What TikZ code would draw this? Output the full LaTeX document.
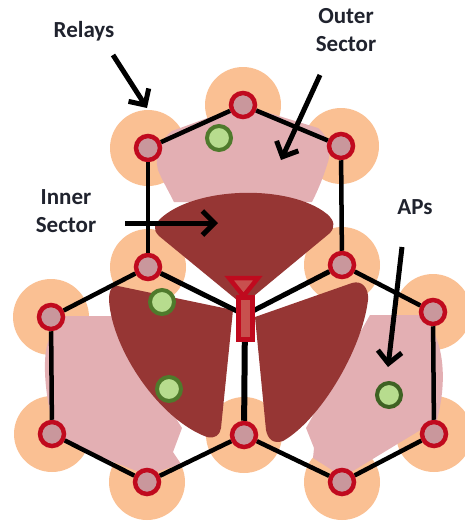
\documentclass[tikz,border=0pt]{standalone}
\usepackage{fontspec}
\setmainfont{Carlito}
\usetikzlibrary{arrows.meta}
\definecolor{coverorange}{HTML}{FAC093}
\definecolor{outerpink}{HTML}{E3AFB3}
\definecolor{innerbrown}{HTML}{963634}
\definecolor{relayred}{HTML}{C00A1E}
\definecolor{relayfill}{HTML}{C9979C}
\definecolor{apgreen}{HTML}{4F7A2C}
\definecolor{aplight}{HTML}{B7DC8E}
\definecolor{hornfill}{HTML}{C8504E}
\definecolor{labelink}{HTML}{20232E}

\begin{document}
\begin{tikzpicture}[
    x=1pt, y=-1pt,
    relay/.style={draw=relayred, circle, line width=4.5pt, minimum size=24pt, inner sep=0pt, fill=relayfill},
    apnode/.style={draw=apgreen, circle, line width=4pt, minimum size=24pt, inner sep=0pt, fill=aplight},
    hexline/.style={line width=4.5pt, black},
    callout/.style={line width=5pt, black, -{Straight Barb[length=12pt, width=24pt, line width=5pt]}},
    labeltext/.style={font=\bfseries\fontsize{23}{28}\selectfont, text=labelink, align=center}
]
    \useasboundingbox (0,0) rectangle (465,522);

    % Coverage circles
    \foreach \cx/\cy in {148/148, 243/105, 341/146, 342/265, 148/267, 433/312, 434/434, 342/482, 244/435, 147/482, 52/434, 51/317}
        \fill[coverorange] (\cx,\cy) circle (38);

    % Outer sectors
    \fill[outerpink] (172,131) -- (243,105) -- (318,128) .. controls (330,138) and (332,152) .. (327,165)
        .. controls (323,178) and (318,190) .. (312,202) -- (174,202) .. controls (168,190) and (162,180) .. (158,170)
        .. controls (154,155) and (160,140) .. (172,131) -- cycle;
    \fill[outerpink] (64,316) -- (112,316) -- (182,428) -- (173,452) -- (181,464) -- (147,475) -- (62,442)
        -- (52,420) .. controls (44,390) and (42,350) .. (50,338) -- cycle;
    \fill[outerpink] (370,315) -- (420,315) .. controls (440,330) and (450,370) .. (437,420) -- (343,477)
        -- (313,458) -- (314,448) -- (306,428) -- cycle;

    % Inner sectors
    \fill[innerbrown] (243,305) -- (159,236) .. controls (152,229) and (155,224) .. (160,219)
        .. controls (195,186) and (290,184) .. (327,214) .. controls (335,221) and (335,227) .. (330,233) -- cycle;
    \fill[innerbrown] (233,310) -- (118,286) .. controls (112,285) and (109,290) .. (109,300)
        .. controls (112,350) and (160,420) .. (207,437) .. controls (215,439) and (220,435) .. (221,428) -- cycle;
    \fill[innerbrown] (255,317) -- (352,283) .. controls (362,280) and (369,288) .. (368,300)
        .. controls (362,350) and (320,420) .. (283,441) .. controls (274,444) and (268,440) .. (266,430) -- cycle;

    % Relays
    \node[relay] (r1) at (148,148) {};
    \node[relay] (r2) at (243,105) {};
    \node[relay] (r3) at (341,146) {};
    \node[relay] (r4) at (342,265) {};
    \node[relay] (r5) at (148,267) {};
    \node[relay] (r6) at (433,312) {};
    \node[relay] (r7) at (434,434) {};
    \node[relay] (r8) at (342,482) {};
    \node[relay] (r9) at (244,435) {};
    \node[relay] (r10) at (147,482) {};
    \node[relay] (r11) at (52,434) {};
    \node[relay] (r12) at (51,317) {};
    \coordinate (hub) at (245,315);

    % Hexagon edges
    \draw[hexline] (r1) -- (r2);
    \draw[hexline] (r2) -- (r3);
    \draw[hexline] (r3) -- (r4);
    \draw[hexline] (r1) -- (r5);
    \draw[hexline] (r4) -- (r6);
    \draw[hexline] (r6) -- (r7);
    \draw[hexline] (r7) -- (r8);
    \draw[hexline] (r8) -- (r9);
    \draw[hexline] (r9) -- (r10);
    \draw[hexline] (r10) -- (r11);
    \draw[hexline] (r11) -- (r12);
    \draw[hexline] (r12) -- (r5);
    \draw[hexline, line width=5pt] (r5) -- (hub);
    \draw[hexline, line width=5pt] (r4) -- (hub);
    \draw[hexline, line width=6pt] (r9) -- (hub);

    % Access points
    \node[apnode] (ap1) at (219,138) {};
    \node[apnode] (ap2) at (162,302) {};
    \node[apnode] (ap3) at (169,389) {};
    \node[apnode, draw=apgreen!80!black] (ap4) at (389,395) {};

    % Antenna
    \node[draw=relayred, fill=hornfill, line width=5pt, minimum width=14pt, minimum height=42pt, inner sep=0pt] (mast) at (245.5,318) {};
    \draw[draw=relayred, fill=hornfill, line width=4.5pt, line join=miter] (229,278) -- (258,278) -- (243.5,296) -- cycle;

    % Labels
    \node[labeltext] (relays) at (84,31) {Relays};
    \node[labeltext] (outer) at (346,30) {Outer\\Sector};
    \node[labeltext] (inner) at (66,211) {Inner\\Sector};
    \node[labeltext] (aps) at (415,207) {APs};

    % Callout arrows
    \coordinate (relaytip) at (147,108);
    \coordinate (outertip) at (281,160);
    \coordinate (innertip) at (218,223);
    \coordinate (aptip) at (388,367);
    \draw[callout] (113,55) -- (relaytip);
    \draw[callout] (320,75) -- (outertip);
    \draw[callout] (125,223) -- (innertip);
    \draw[callout] (402,247) -- (aptip);

\end{tikzpicture}
\end{document}
